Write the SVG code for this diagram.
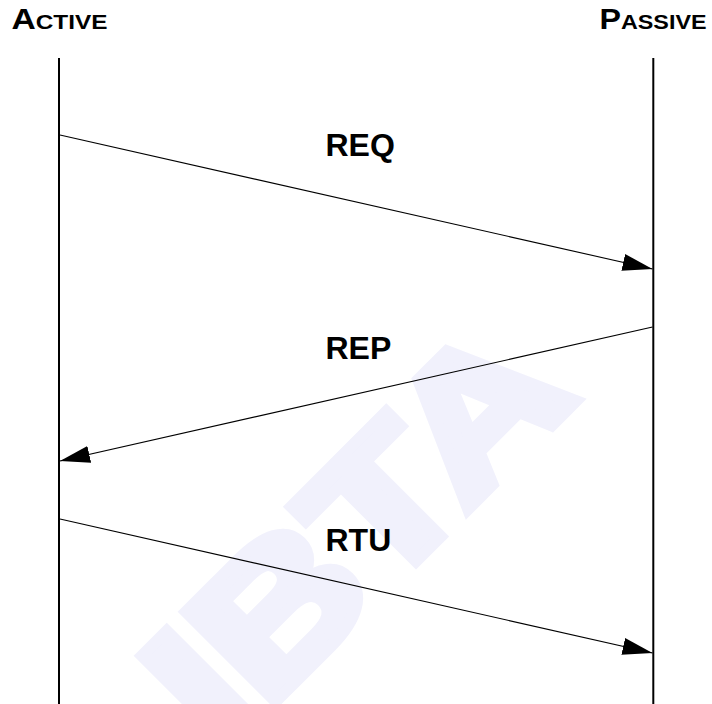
<svg xmlns="http://www.w3.org/2000/svg" width="712" height="704" viewBox="0 0 712 704">
<style>
.hdr{font-family:"Liberation Sans",Arial,sans-serif;font-weight:bold;fill:#000}
.lbl{font-family:"Liberation Sans",Arial,sans-serif;font-weight:bold;font-size:32px;fill:#000}
.life{stroke:#000;stroke-width:2;fill:none}
.msg{stroke:#000;stroke-width:1.1;fill:none;marker-end:url(#ah)}
.wm{font-family:"Liberation Sans",Arial,sans-serif;font-weight:bold;font-size:184px;fill:#f1f1fc;stroke:#f1f1fc;stroke-width:12;stroke-linejoin:miter}
</style>
<defs>
<marker id="ah" markerUnits="userSpaceOnUse" markerWidth="31" markerHeight="18" refX="30" refY="8.5" orient="auto">
<path d="M0,0 L30,8.5 L0,17 Z" fill="#000"/>
</marker>
</defs>
<rect width="712" height="704" fill="#fff"/>
<text class="wm" x="222" y="755" transform="rotate(-45 222 755)" textLength="505" lengthAdjust="spacingAndGlyphs">IBTA</text>
<g id="active">
<text class="hdr" x="11.5" y="29.3" textLength="96" lengthAdjust="spacingAndGlyphs"><tspan font-size="29">A</tspan><tspan font-size="21">CTIVE</tspan></text>
<line class="life" x1="59" y1="58" x2="59" y2="704"/>
</g>
<g id="passive">
<text class="hdr" x="599.5" y="29.3" textLength="107" lengthAdjust="spacingAndGlyphs"><tspan font-size="29">P</tspan><tspan font-size="21">ASSIVE</tspan></text>
<line class="life" x1="653.3" y1="58" x2="653.3" y2="704"/>
</g>
<g id="connectors">
<line class="msg" x1="60" y1="135" x2="652.5" y2="269"/>
<line class="msg" x1="652.5" y1="327" x2="60" y2="461"/>
<line class="msg" x1="60" y1="519" x2="652.5" y2="653"/>
<text class="lbl" x="325.5" y="156">REQ</text>
<text class="lbl" x="325.5" y="359">REP</text>
<text class="lbl" x="325.5" y="551">RTU</text>
</g>
</svg>
